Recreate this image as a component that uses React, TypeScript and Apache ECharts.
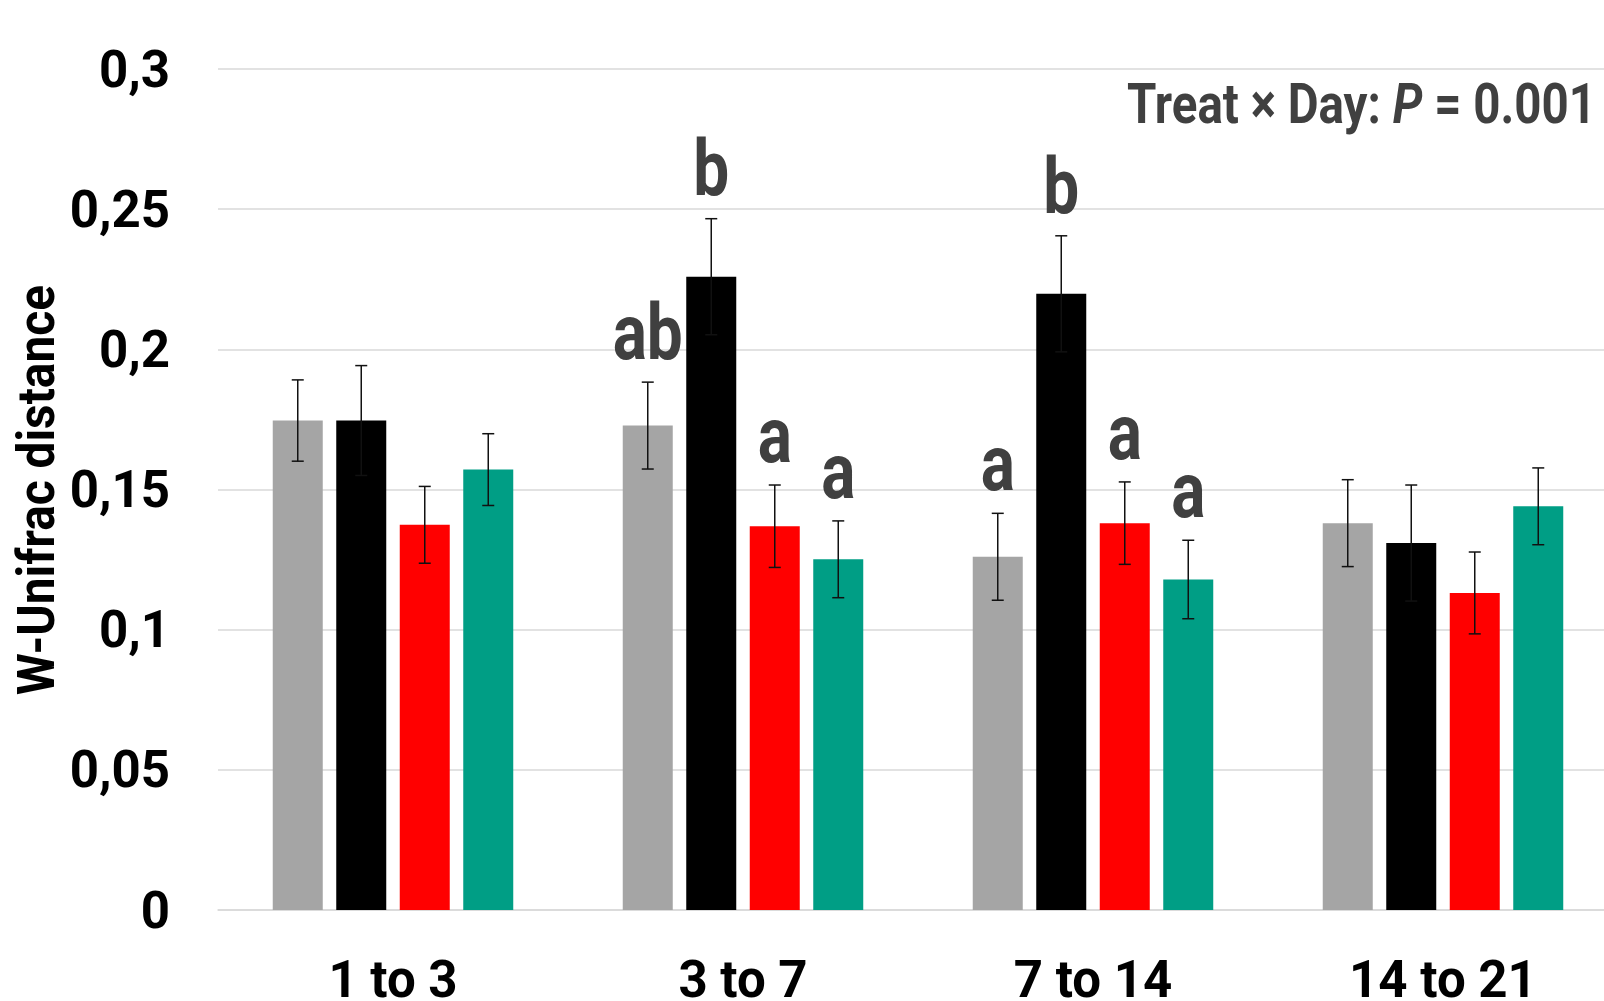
import React, { useEffect, useRef } from "react";
import * as echarts from "echarts";

const categories = ["1 to 3", "3 to 7", "7 to 14", "14 to 21"];
const seriesNames = ["Treatment A", "Treatment B", "Treatment C", "Treatment D"];
const seriesColors = ["#a5a5a5", "#000000", "#ff0000", "#009e85"];

const grayValues = [0.1746, 0.1728, 0.126, 0.138];
const blackValues = [0.1746, 0.2259, 0.2198, 0.1309];
const redValues = [0.1374, 0.1369, 0.138, 0.1131];
const greenValues = [0.1571, 0.1251, 0.1179, 0.144];

const grayErr = [0.0145, 0.0155, 0.0155, 0.0155];
const blackErr = [0.0196, 0.0207, 0.0207, 0.0207];
const redErr = [0.0137, 0.0147, 0.0147, 0.0146];
const greenErr = [0.0128, 0.0137, 0.014, 0.0137];

const grayLetters = ["", "ab", "a", ""];
const blackLetters = ["", "b", "b", ""];
const redLetters = ["", "a", "a", ""];
const greenLetters = ["", "a", "a", ""];

const yTickLabels = ["0", "0,05", "0,1", "0,15", "0,2", "0,25", "0,3"];

const FONT = "Roboto";

export default function App() {
  const ref = useRef<HTMLDivElement>(null);
  useEffect(() => {
    if (!ref.current) return;
    const chart = echarts.init(ref.current, null, { renderer: "svg" });
    const allValues = [grayValues, blackValues, redValues, greenValues];
    const allErr = [grayErr, blackErr, redErr, greenErr];
    const allLetters = [grayLetters, blackLetters, redLetters, greenLetters];
    const barWidth = 50;
    const gapPx = 13.5;
    const step = barWidth + gapPx;

    const barSeries = allValues.map((vals, s) => ({
      type: "bar",
      name: seriesNames[s],
      data: vals,
      barWidth,
      barGap: (gapPx / barWidth) * 100 + "%",
      itemStyle: { color: seriesColors[s] },
      z: 2,
    }));

    const errSeries = allValues.map((vals, s) => ({
      type: "custom",
      name: seriesNames[s] + " error",
      data: vals.map((v, i) => [i, v, allErr[s][i]]),
      z: 5,
      renderItem: (params: any, api: any) => {
        const c = api.value(0);
        const v = api.value(1);
        const e = api.value(2);
        const top = api.coord([c, v + e]);
        const bot = api.coord([c, v - e]);
        const x = top[0] + (s - 1.5) * step;
        const capHalf = 6;
        const lineStyle = { stroke: "#111", lineWidth: 1.5 };
        const children: any[] = [
          { type: "line", shape: { x1: x, y1: top[1], x2: x, y2: bot[1] }, style: lineStyle },
          { type: "line", shape: { x1: x - capHalf, y1: top[1], x2: x + capHalf, y2: top[1] }, style: lineStyle },
          { type: "line", shape: { x1: x - capHalf, y1: bot[1], x2: x + capHalf, y2: bot[1] }, style: lineStyle },
        ];
        const letter = allLetters[s][params.dataIndex];
        if (letter) {
          children.push({
            type: "text",
            x: x,
            y: top[1] - 11,
            scaleX: 0.82,
            style: {
              text: letter,
              fill: "#404040",
              fontSize: 78,
              fontWeight: "bold",
              fontFamily: FONT,
              textAlign: "center",
              textVerticalAlign: "bottom",
            },
          });
        }
        return { type: "group", children };
      },
    }));

    chart.setOption({
      animation: false,
      backgroundColor: "#ffffff",
      grid: {
        left: 218,
        top: 69,
        right: 2,
        bottom: 91,
        containLabel: false,
        outerBoundsMode: "none",
      },
      xAxis: {
        type: "category",
        data: categories,
        axisLine: { show: true, lineStyle: { color: "#d9d9d9", width: 1.5 } },
        axisTick: { show: false },
        axisLabel: {
          color: "#000",
          fontSize: 51,
          fontWeight: "bold",
          fontFamily: FONT,
          margin: 52,
          lineHeight: 34,
        },
      },
      yAxis: {
        type: "value",
        min: 0,
        max: 0.3,
        interval: 0.05,
        axisLine: { show: false },
        axisTick: { show: false },
        splitLine: { lineStyle: { color: "#d9d9d9", width: 1.5 } },
        axisLabel: {
          color: "#000",
          fontSize: 51,
          fontWeight: "bold",
          fontFamily: FONT,
          margin: 48,
          formatter: (val: number) => yTickLabels[Math.round(val / 0.05)] ?? "",
        },
      },
      graphic: [
        {
          type: "text",
          x: 36,
          y: 490,
          rotation: Math.PI / 2,
          scaleX: 0.92,
          style: {
            text: "W-Unifrac distance",
            fill: "#000",
            fontSize: 52,
            fontWeight: "bold",
            fontFamily: FONT,
            textAlign: "center",
            textVerticalAlign: "middle",
          },
        },
        {
          type: "text",
          x: 1596,
          y: 104,
          scaleX: 0.848,
          style: {
            text: "{n|Treat × Day: }{i|P}{n| = 0.001}",
            textAlign: "right",
            textVerticalAlign: "middle",
            rich: {
              n: { fill: "#404040", fontSize: 56, fontWeight: "bold", fontFamily: FONT },
              i: { fill: "#404040", fontSize: 56, fontWeight: "bold", fontStyle: "italic", fontFamily: FONT },
            },
          },
        },
      ],
      series: [...barSeries, ...errSeries],
    });
    return () => chart.dispose();
  }, []);
  return (
    <div style={{ position: "absolute", left: 0, top: 0, width: 1604, height: 1001, overflow: "hidden", background: "#fff" }}>
      <div ref={ref} style={{ width: 1620, height: 1001 }} />
    </div>
  );
}
